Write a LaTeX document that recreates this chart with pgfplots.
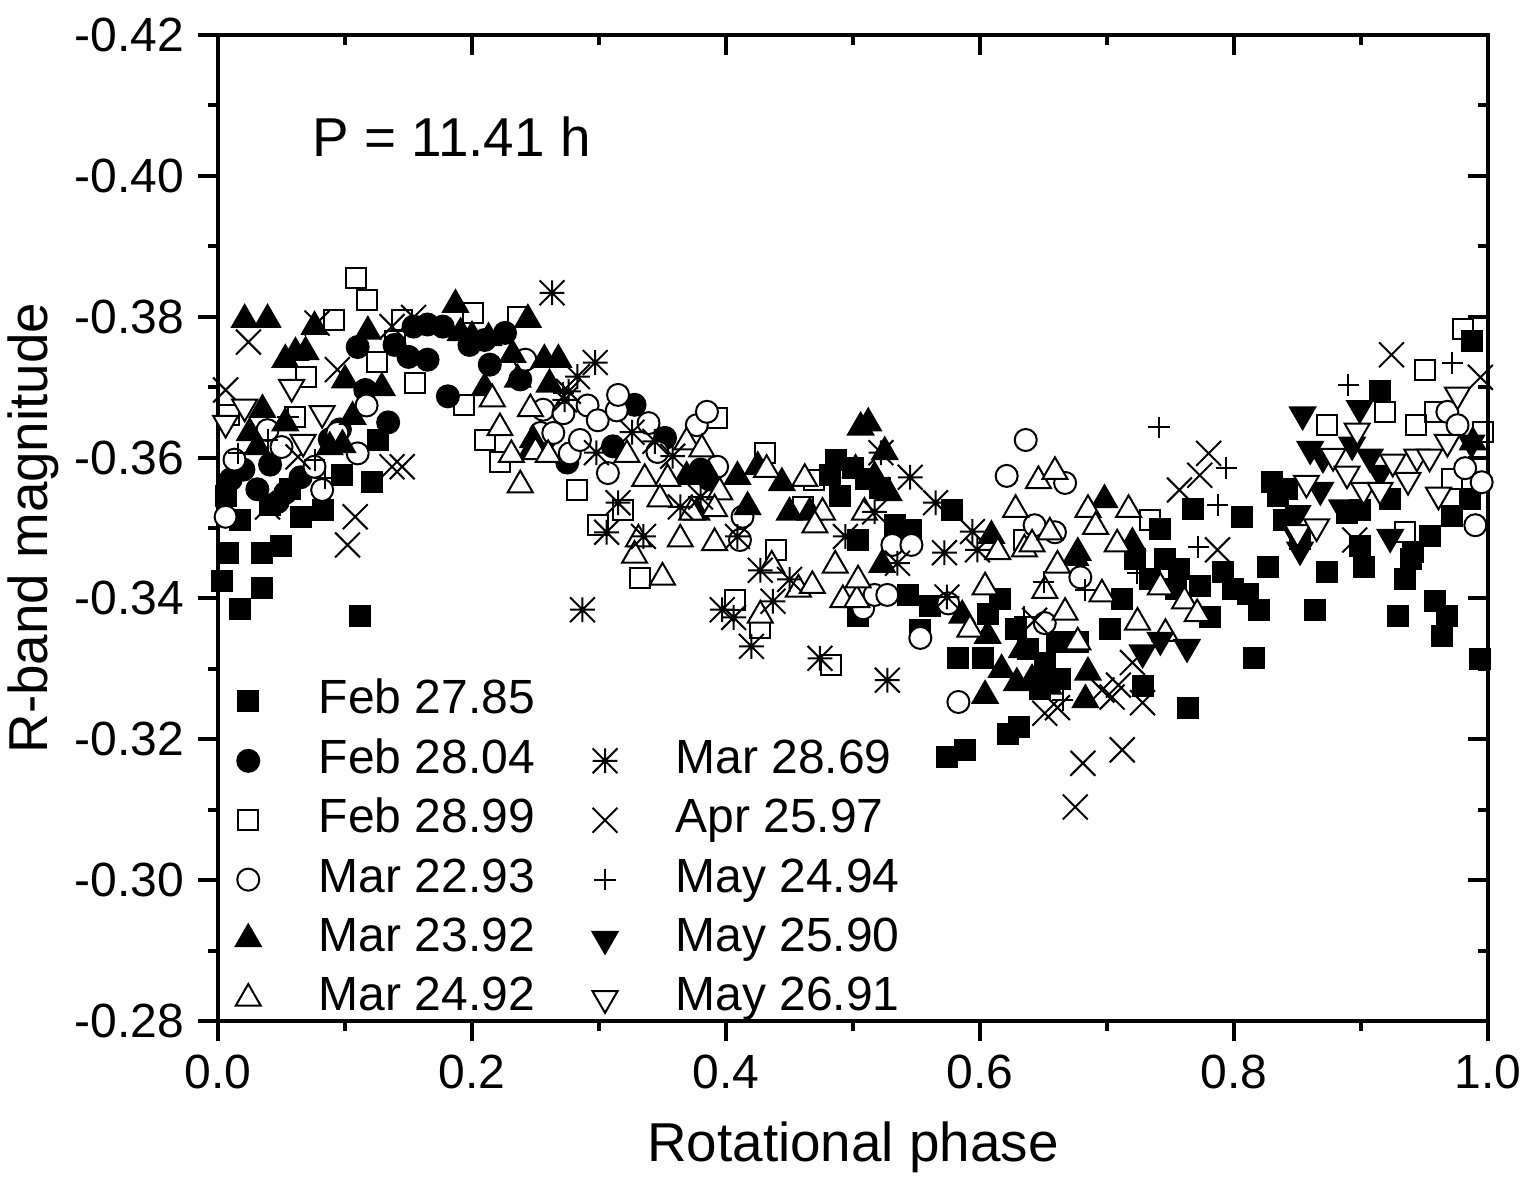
\documentclass[border=0pt]{standalone}
\usepackage{fontspec}
\setmainfont{Liberation Sans}
\usepackage{pgfplots}
\pgfplotsset{compat=1.18}

% eight-spoke asterisk
\pgfdeclareplotmark{ast8}{%
  \pgfpathmoveto{\pgfqpoint{0pt}{\pgfplotmarksize}}\pgfpathlineto{\pgfqpoint{0pt}{-\pgfplotmarksize}}%
  \pgfpathmoveto{\pgfqpoint{\pgfplotmarksize}{0pt}}\pgfpathlineto{\pgfqpoint{-\pgfplotmarksize}{0pt}}%
  \pgfpathmoveto{\pgfqpoint{\pgfplotmarksize}{\pgfplotmarksize}}\pgfpathlineto{\pgfqpoint{-\pgfplotmarksize}{-\pgfplotmarksize}}%
  \pgfpathmoveto{\pgfqpoint{\pgfplotmarksize}{-\pgfplotmarksize}}\pgfpathlineto{\pgfqpoint{-\pgfplotmarksize}{\pgfplotmarksize}}%
  \pgfusepathqstroke}

\pgfplotsset{
  frame/.style={
    scale only axis, width=317.5pt, height=246.5pt,
    xmin=0, xmax=1, ymin=-0.42, ymax=-0.28, y dir=reverse,
    xtick={0,0.2,0.4,0.6,0.8,1},
    minor xtick={0.1,0.3,0.5,0.7,0.9},
    ytick={-0.42,-0.40,-0.38,-0.36,-0.34,-0.32,-0.30,-0.28},
    minor ytick={-0.41,-0.39,-0.37,-0.35,-0.33,-0.31,-0.29},
    major tick length=5pt, minor tick length=2.5pt,
    every tick/.style={black, line width=1pt},
    axis line style={line width=1pt},
  },
  ser/.style={only marks, draw=black, line width=0.5pt},
}

\newcommand{\tickfont}{\fontsize{12}{14}\selectfont}
\newcommand{\labfont}{\fontsize{13.7}{16}\selectfont}

\begin{document}
\begin{tikzpicture}
% inward ticks on the top and right edges
\begin{axis}[frame, xtick pos=right, ytick pos=right, tick align=inside,
  xticklabels={}, yticklabels={}]
\end{axis}

\begin{axis}[frame, name=ax, xtick pos=left, ytick pos=left, tick align=outside,
  xticklabels={0.0,0.2,0.4,0.6,0.8,1.0},
  yticklabels={-0.42,-0.40,-0.38,-0.36,-0.34,-0.32,-0.30,-0.28},
  tick label style={font=\tickfont},
  xlabel={Rotational phase}, ylabel={R-band magnitude},
  label style={font=\labfont},
  xlabel shift=1.25pt, ylabel shift=-3pt,
  legend columns=6, transpose legend,
  legend cell align=left,
  legend style={draw=none, fill=none, font=\tickfont,
    at={(0,0)}, anchor=south west, xshift=1.25pt, yshift=-2.25pt,
    nodes={inner sep=0pt, text height=8.8pt, text depth=2.6pt},
    row sep=3.45pt,
    /tikz/every odd column/.append style={column sep=14.5pt},
    /tikz/every even column/.append style={column sep=9pt}},
]

% Feb 27.85
\addplot[ser, mark=square*, mark size=2.5pt, fill=black] coordinates {
(0.003,-0.3425) (0.008,-0.3465) (0.017,-0.3385) (0.006,-0.3545) (0.035,-0.3415)
(0.035,-0.3465) (0.050,-0.3475) (0.065,-0.3515) (0.083,-0.3525) (0.098,-0.3575)
(0.121,-0.3565) (0.126,-0.3625) (0.112,-0.3375) (0.017,-0.3512) (0.041,-0.3533)
(0.057,-0.3555)
(0.487,-0.3597) (0.500,-0.3585) (0.490,-0.3545) (0.510,-0.3570) (0.521,-0.3557)
(0.504,-0.3483) (0.504,-0.3375) (0.546,-0.3497) (0.543,-0.3405) (0.561,-0.3390)
(0.578,-0.3525) (0.553,-0.3355) (0.482,-0.3575) (0.533,-0.3505)
(0.574,-0.3175) (0.588,-0.3185) (0.583,-0.3315) (0.602,-0.3315) (0.606,-0.3378)
(0.622,-0.3207) (0.631,-0.3217) (0.638,-0.3328) (0.661,-0.3338) (0.677,-0.3338)
(0.616,-0.3399) (0.628,-0.3357) (0.647,-0.3272) (0.663,-0.3286) (0.651,-0.3308)
(0.702,-0.3357) (0.712,-0.3399) (0.728,-0.3275) (0.722,-0.3456) (0.742,-0.3498)
(0.746,-0.3456) (0.734,-0.3428) (0.754,-0.3414) (0.764,-0.3245) (0.757,-0.3442)
(0.773,-0.3418) (0.768,-0.3527) (0.781,-0.3373) (0.791,-0.3437) (0.799,-0.3413)
(0.811,-0.3406) (0.806,-0.3515) (0.816,-0.3316) (0.820,-0.3384) (0.827,-0.3445)
(0.830,-0.3566) (0.839,-0.3512) (0.842,-0.3555) (0.835,-0.3545) (0.852,-0.3484)
(0.864,-0.3384) (0.873,-0.3437) (0.889,-0.3522) (0.899,-0.3526) (0.902,-0.3445)
(0.899,-0.3474) (0.915,-0.3694) (0.923,-0.3541) (0.929,-0.3375) (0.935,-0.3427)
(0.939,-0.3456) (0.941,-0.3466) (0.954,-0.3488) (0.958,-0.3396) (0.964,-0.3346)
(0.968,-0.3375) (0.972,-0.3517) (0.986,-0.3541) (0.987,-0.3765) (0.994,-0.3314)
};
\addlegendentry{Feb 27.85}

% Feb 28.04
\addplot[ser, mark=*, mark size=2.75pt, fill=black] coordinates {
(0.010,-0.3569) (0.020,-0.3583) (0.031,-0.3555) (0.047,-0.3537) (0.053,-0.3550)
(0.065,-0.3572) (0.088,-0.3626) (0.096,-0.3640) (0.110,-0.3757) (0.116,-0.3696)
(0.134,-0.3650) (0.139,-0.3760) (0.154,-0.3786) (0.165,-0.3789) (0.177,-0.3786)
(0.150,-0.3743) (0.165,-0.3739) (0.181,-0.3687) (0.198,-0.3760) (0.210,-0.3767)
(0.226,-0.3777) (0.214,-0.3732) (0.238,-0.3711) (0.257,-0.3626) (0.275,-0.3593)
(0.311,-0.3616) (0.328,-0.3675) (0.352,-0.3628) (0.380,-0.3583) (0.387,-0.3569)
(0.041,-0.3590)
};
\addlegendentry{Feb 28.04}

% Feb 28.99
\addplot[ser, mark=square, mark size=2.5pt, fill=white] coordinates {
(0.009,-0.3661) (0.061,-0.3658) (0.069,-0.3715) (0.091,-0.3796) (0.109,-0.3855)
(0.117,-0.3824) (0.125,-0.3736) (0.139,-0.3765) (0.145,-0.3796) (0.155,-0.3706)
(0.194,-0.3675) (0.201,-0.3806) (0.210,-0.3625) (0.222,-0.3594) (0.236,-0.3800)
(0.283,-0.3554) (0.299,-0.3504) (0.319,-0.3526) (0.332,-0.3429) (0.393,-0.3656)
(0.407,-0.3398) (0.427,-0.3358) (0.431,-0.3606) (0.439,-0.3469) (0.461,-0.3530)
(0.469,-0.3568) (0.483,-0.3306) (0.635,-0.3483) (0.734,-0.3511) (0.873,-0.3646)
(0.919,-0.3665) (0.935,-0.3494) (0.943,-0.3646) (0.950,-0.3725) (0.958,-0.3665)
(0.972,-0.3569) (0.980,-0.3782) (0.996,-0.3637)
};
\addlegendentry{Feb 28.99}

% Mar 22.93
\addplot[ser, mark=*, mark size=2.75pt, fill=white] coordinates {
(0.006,-0.3516) (0.013,-0.3597) (0.039,-0.3639) (0.050,-0.3615) (0.076,-0.3587)
(0.082,-0.3554) (0.094,-0.3635) (0.110,-0.3606) (0.117,-0.3674) (0.242,-0.3739)
(0.254,-0.3635) (0.256,-0.3668) (0.264,-0.3635) (0.272,-0.3663) (0.277,-0.3606)
(0.285,-0.3625) (0.291,-0.3674) (0.299,-0.3653) (0.307,-0.3578) (0.314,-0.3667)
(0.315,-0.3689) (0.339,-0.3649) (0.346,-0.3608) (0.377,-0.3646) (0.385,-0.3665)
(0.393,-0.3587) (0.411,-0.3483) (0.413,-0.3516) (0.508,-0.3386) (0.517,-0.3405)
(0.527,-0.3405) (0.531,-0.3476) (0.546,-0.3476) (0.553,-0.3344) (0.575,-0.3393)
(0.583,-0.3253) (0.621,-0.3574) (0.636,-0.3625) (0.643,-0.3504) (0.651,-0.3365)
(0.659,-0.3494) (0.667,-0.3564) (0.679,-0.3430) (0.968,-0.3665) (0.976,-0.3646)
(0.982,-0.3585) (0.990,-0.3504) (0.995,-0.3565)
};
\addlegendentry{Mar 22.93}

% Mar 23.92
\addplot[ser, mark=triangle*, mark size=3.6pt, fill=black] coordinates {
(0.021,-0.3796) (0.039,-0.3796) (0.053,-0.3739) (0.061,-0.3749) (0.069,-0.3750)
(0.076,-0.3786) (0.035,-0.3668) (0.025,-0.3635) (0.031,-0.3615) (0.053,-0.3649)
(0.088,-0.3615) (0.098,-0.3618) (0.100,-0.3710) (0.106,-0.3658) (0.118,-0.3779)
(0.129,-0.3699) (0.187,-0.3817) (0.191,-0.3777) (0.200,-0.3772) (0.213,-0.3770)
(0.210,-0.3699) (0.232,-0.3746) (0.236,-0.3711) (0.244,-0.3796) (0.247,-0.3611)
(0.257,-0.3739) (0.268,-0.3739) (0.261,-0.3704) (0.248,-0.3625) (0.369,-0.3573)
(0.377,-0.3522) (0.387,-0.3573) (0.409,-0.3573) (0.417,-0.3530) (0.425,-0.3587)
(0.444,-0.3564) (0.450,-0.3522) (0.466,-0.3522) (0.502,-0.3583) (0.506,-0.3643)
(0.512,-0.3649) (0.517,-0.3573) (0.523,-0.3448) (0.525,-0.3608) (0.528,-0.3550)
(0.586,-0.3376) (0.604,-0.3262) (0.606,-0.3347) (0.609,-0.3489) (0.617,-0.3299)
(0.629,-0.3280) (0.633,-0.3327) (0.641,-0.3285) (0.651,-0.3299) (0.654,-0.3275)
(0.675,-0.3458) (0.677,-0.3465) (0.683,-0.3256) (0.685,-0.3295) (0.698,-0.3540)
(0.720,-0.3479) (0.988,-0.3622)
};
\addlegendentry{Mar 23.92}

% Mar 24.92
\addplot[ser, mark=triangle*, mark size=3.6pt, fill=white] coordinates {
(0.216,-0.3683) (0.222,-0.3642) (0.231,-0.3604) (0.238,-0.3561) (0.246,-0.3669)
(0.250,-0.3608) (0.260,-0.3604) (0.322,-0.3604) (0.336,-0.3570) (0.354,-0.3570)
(0.369,-0.3622) (0.381,-0.3612) (0.395,-0.3551) (0.391,-0.3527) (0.373,-0.3522)
(0.348,-0.3541) (0.432,-0.3583) (0.462,-0.3570) (0.476,-0.3522) (0.470,-0.3504)
(0.331,-0.3484) (0.364,-0.3484) (0.328,-0.3461) (0.350,-0.3430) (0.391,-0.3479)
(0.436,-0.3447) (0.427,-0.3376) (0.457,-0.3413) (0.468,-0.3418) (0.486,-0.3447)
(0.492,-0.3398) (0.503,-0.3398) (0.504,-0.3426) (0.509,-0.3522) (0.592,-0.3356)
(0.604,-0.3416) (0.614,-0.3466) (0.628,-0.3526) (0.635,-0.3470) (0.641,-0.3477)
(0.646,-0.3567) (0.651,-0.3411) (0.655,-0.3494) (0.659,-0.3580) (0.661,-0.3447)
(0.667,-0.3380) (0.677,-0.3338) (0.685,-0.3526) (0.691,-0.3502) (0.696,-0.3406)
(0.708,-0.3477) (0.717,-0.3526) (0.724,-0.3366) (0.742,-0.3416) (0.746,-0.3350)
(0.761,-0.3396) (0.771,-0.3378)
};
\addlegendentry{Mar 24.92}

\addlegendimage{empty legend}
\addlegendentry{}

% Mar 28.69
\addplot[ser, mark=ast8, mark size=3.1pt] coordinates {
(0.263,-0.3834) (0.283,-0.3715) (0.276,-0.3694) (0.273,-0.3682) (0.297,-0.3735)
(0.298,-0.3607) (0.287,-0.3384) (0.306,-0.3494) (0.315,-0.3536) (0.326,-0.3636)
(0.335,-0.3488) (0.344,-0.3623) (0.358,-0.3602) (0.364,-0.3530) (0.380,-0.3544)
(0.397,-0.3384) (0.406,-0.3373) (0.409,-0.3488) (0.420,-0.3332) (0.437,-0.3396)
(0.474,-0.3315) (0.494,-0.3488) (0.517,-0.3523) (0.522,-0.3607) (0.527,-0.3284)
(0.535,-0.3450) (0.545,-0.3572) (0.565,-0.3536) (0.572,-0.3465) (0.574,-0.3402)
(0.594,-0.3495) (0.598,-0.3469) (0.450,-0.3427) (0.427,-0.3440)
};
\addlegendentry{Mar 28.69}

% Apr 25.97
\addplot[ser, mark=x, mark size=4.4pt] coordinates {
(0.006,-0.3696) (0.024,-0.3764) (0.039,-0.3530) (0.063,-0.3601) (0.078,-0.3791)
(0.094,-0.3725) (0.102,-0.3476) (0.108,-0.3516) (0.137,-0.3587) (0.145,-0.3587)
(0.137,-0.3786) (0.154,-0.3799) (0.651,-0.3237) (0.661,-0.3245) (0.675,-0.3104)
(0.681,-0.3166) (0.696,-0.3270) (0.704,-0.3260) (0.709,-0.3277) (0.712,-0.3185)
(0.720,-0.3309) (0.728,-0.3252) (0.757,-0.3554) (0.773,-0.3575) (0.780,-0.3606)
(0.787,-0.3469) (0.895,-0.3483) (0.924,-0.3746) (0.994,-0.3714) (0.643,-0.3369)
};
\addlegendentry{Apr 25.97}

% May 24.94
\addplot[ser, mark=+, mark size=2.7pt] coordinates {
(0.016,-0.3606) (0.039,-0.3625) (0.055,-0.3658) (0.076,-0.3597) (0.084,-0.3571)
(0.272,-0.3692) (0.635,-0.3374) (0.650,-0.3423) (0.665,-0.3256) (0.683,-0.3412)
(0.724,-0.3436) (0.741,-0.3643) (0.772,-0.3473) (0.787,-0.3533) (0.794,-0.3585)
(0.890,-0.3703) (0.972,-0.3734)
};
\addlegendentry{May 24.94}

% May 25.90
\addplot[ser, mark=triangle*, mark size=3.6pt, fill=black, mark options={rotate=180}] coordinates {
(0.728,-0.3323) (0.742,-0.3341) (0.763,-0.3331) (0.850,-0.3487) (0.850,-0.3521)
(0.852,-0.3469) (0.854,-0.3661) (0.860,-0.3612) (0.870,-0.3600) (0.885,-0.3529)
(0.893,-0.3618) (0.899,-0.3670) (0.907,-0.3601) (0.915,-0.3578) (0.923,-0.3487)
(0.987,-0.3621) (0.868,-0.3554)
};
\addlegendentry{May 25.90}

% May 26.91
\addplot[ser, mark=triangle*, mark size=3.6pt, fill=white, mark options={rotate=180}] coordinates {
(0.006,-0.3649) (0.021,-0.3672) (0.058,-0.3700) (0.067,-0.3622) (0.082,-0.3663)
(0.850,-0.3494) (0.857,-0.3564) (0.865,-0.3502) (0.878,-0.3602) (0.889,-0.3577)
(0.897,-0.3638) (0.902,-0.3554) (0.915,-0.3554) (0.925,-0.3594) (0.937,-0.3568)
(0.944,-0.3601) (0.954,-0.3601) (0.961,-0.3547) (0.968,-0.3622) (0.976,-0.3689)
};
\addlegendentry{May 26.91}

\node[anchor=west, font=\labfont, inner sep=0pt] at (axis cs:0.074,-0.4055) {P = 11.41 h};
\end{axis}

\pgfresetboundingbox
\path ([xshift=-54.5pt,yshift=-40.25pt]ax.south west) rectangle ([xshift=12.5pt,yshift=8.75pt]ax.north east);
\end{tikzpicture}
\end{document}
